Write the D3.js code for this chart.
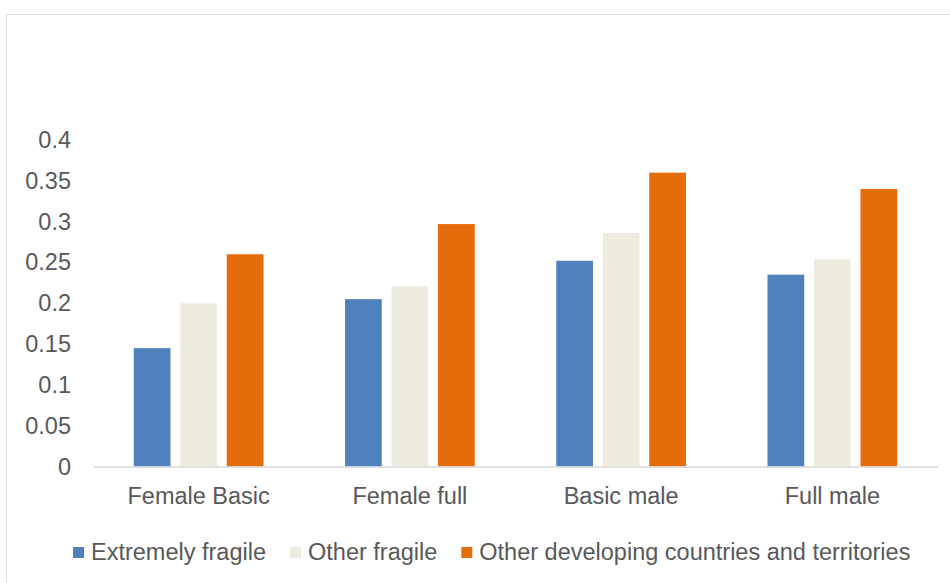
<!DOCTYPE html>
<html>
<head>
<meta charset="utf-8">
<script src="https://cdn.jsdelivr.net/npm/d3@7/dist/d3.min.js"></script>
<style>
  html, body { margin: 0; padding: 0; background: #ffffff; }
  svg { display: block; }
  text { font-family: "Liberation Sans", Arial, sans-serif; fill: #595959; }
</style>
</head>
<body>
<svg id="chart" width="950" height="583"></svg>
<script>
const categories = ["Female Basic", "Female full", "Basic male", "Full male"];
const seriesNames = ["Extremely fragile", "Other fragile", "Other developing countries and territories"];
const extremelyFragile = [0.145, 0.205, 0.252, 0.235];
const otherFragile = [0.200, 0.221, 0.286, 0.254];
const otherDeveloping = [0.260, 0.297, 0.360, 0.340];
const yTicks = [0, 0.05, 0.1, 0.15, 0.2, 0.25, 0.3, 0.35, 0.4];
const colors = ["#4F81BD", "#EEECE1", "#E46C0A"];

const seriesValues = [extremelyFragile, otherFragile, otherDeveloping];
const table = categories.map((c, i) => ({
  category: c,
  values: seriesNames.map((s, j) => ({ series: s, value: seriesValues[j][i], color: colors[j] }))
}));

const FS = 23.5;
const svg = d3.select("#chart");

// outer border (chart area frame)
svg.append("rect")
  .attr("x", 6.5).attr("y", 14.5)
  .attr("width", 1000).attr("height", 1000)
  .attr("fill", "none").attr("stroke", "#dedede").attr("stroke-width", 1);

const plotLeft = 93, plotRight = 938, plotTop = 140, plotBottom = 466.5;

const x0 = d3.scaleBand().domain(categories).range([plotLeft, plotRight]).padding(0);
const bw = x0.bandwidth();
const x1 = d3.scaleBand().domain(seriesNames).range([bw * 0.193, bw * 0.807]).paddingInner(0.21).paddingOuter(0);
const y = d3.scaleLinear().domain([0, 0.4]).range([plotBottom, plotTop]);

// bars
const groups = svg.append("g").selectAll("g")
  .data(table).join("g")
  .attr("transform", d => `translate(${x0(d.category)},0)`);

groups.selectAll("rect")
  .data(d => d.values).join("rect")
  .attr("x", d => x1(d.series))
  .attr("width", x1.bandwidth())
  .attr("y", d => y(d.value))
  .attr("height", d => y(0) - y(d.value))
  .attr("fill", d => d.color);

// y axis (labels only)
const yAxis = d3.axisLeft(y).tickValues(yTicks).tickSize(0).tickPadding(0)
  .tickFormat(d => d3.format("")(+d.toFixed(2)));
const yg = svg.append("g").attr("transform", `translate(71,0)`).call(yAxis);
yg.select(".domain").remove();
yg.selectAll("text").attr("font-size", FS).attr("font-family", "Liberation Sans, Arial, sans-serif").attr("fill", "#595959");

// x axis
const xAxis = d3.axisBottom(x0).tickSize(0).tickPadding(0);
const xg = svg.append("g").attr("transform", `translate(0,${plotBottom})`).call(xAxis);
xg.select(".domain").attr("stroke", "#d9d9d9").attr("stroke-width", 1.5);
xg.selectAll("text").attr("font-size", FS).attr("font-family", "Liberation Sans, Arial, sans-serif")
  .attr("fill", "#595959").attr("dy", null).attr("y", 37);

// legend
const legend = svg.append("g").attr("transform", "translate(73,0)");
let lx = 0;
seriesNames.forEach((s, i) => {
  const g = legend.append("g").attr("transform", `translate(${lx},0)`);
  g.append("rect").attr("x", 0).attr("y", 547).attr("width", 11).attr("height", 11).attr("fill", colors[i]);
  const t = g.append("text").attr("x", 18).attr("y", 560).attr("font-size", FS).text(s);
  lx += 18 + t.node().getComputedTextLength() + 24;
});
</script>
</body>
</html>
